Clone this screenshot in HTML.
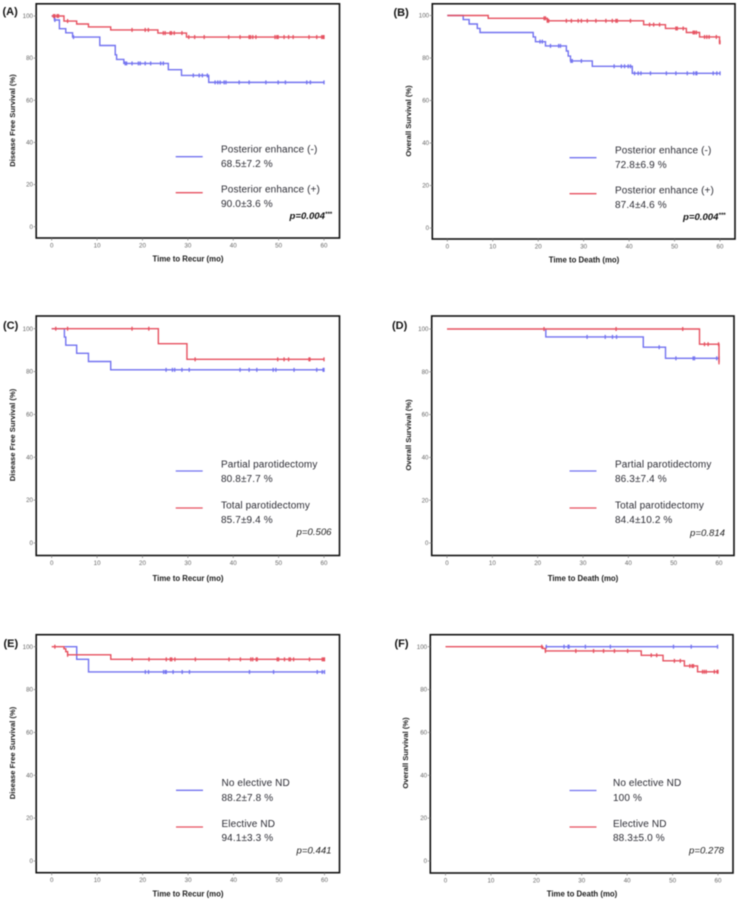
<!DOCTYPE html>
<html lang="en">
<head>
<meta charset="utf-8">
<title>Kaplan-Meier survival curves</title>
<style>
html,body{margin:0;padding:0;background:#fff;width:740px;height:902px;overflow:hidden}
svg{position:absolute;left:0;top:0;display:block;filter:blur(0.4px)}
text{font-family:"Liberation Sans",sans-serif}
.lg{font-size:10px;fill:#2c2c34;letter-spacing:.12px}
.pv{font-size:9.6px;fill:#222;font-style:italic;text-anchor:end}
.pb{font-weight:bold;fill:#111}
.pl{font-size:11px;font-weight:bold;fill:#111}
.xt{font-size:7.8px;font-weight:bold;fill:#1a1a1a;text-anchor:middle}
.yt{font-size:7.6px;font-weight:bold;fill:#1a1a1a;text-anchor:middle}
.tk{font-size:6.2px;fill:#666}
</style>
</head>
<body>
<svg id="chart" xmlns="http://www.w3.org/2000/svg" width="740" height="902" viewBox="0 0 740 902">
  <rect width="740" height="902" fill="#fff"/>

  <g>
    <text class="pl" x="2.5" y="15">(A)</text>
    <text class="yt" transform="translate(15,120.5) rotate(-90)">Disease Free Survival (%)</text>
    <text class="xt" x="188" y="261.5">Time to Recur (mo)</text>
    <text class="lg" x="221" y="152.5">Posterior enhance (-)</text>
    <text class="lg" x="221" y="167">68.5±7.2 %</text>
    <text class="lg" x="221" y="192.5">Posterior enhance (+)</text>
    <text class="lg" x="221" y="207">90.0±3.6 %</text>
    <text class="pv pb" x="332" y="219">p=0.004<tspan font-size="6" dy="-3">***</tspan></text>
  </g>

  <g>
    <text class="pl" x="393.5" y="16">(B)</text>
    <text class="yt" transform="translate(411,121) rotate(-90)">Overall Survival (%)</text>
    <text class="xt" x="584" y="262.5">Time to Death (mo)</text>
    <text class="lg" x="615" y="153.5">Posterior enhance (-)</text>
    <text class="lg" x="615" y="168">72.8±6.9 %</text>
    <text class="lg" x="615" y="193.5">Posterior enhance (+)</text>
    <text class="lg" x="615" y="208">87.4±4.6 %</text>
    <text class="pv pb" x="725.5" y="220">p=0.004<tspan font-size="6" dy="-3">***</tspan></text>
  </g>

  <g>
    <text class="pl" x="3" y="329">(C)</text>
    <text class="yt" transform="translate(15,435) rotate(-90)">Disease Free Survival (%)</text>
    <text class="xt" x="188" y="581">Time to Recur (mo)</text>
    <text class="lg" x="221" y="467.5">Partial parotidectomy</text>
    <text class="lg" x="221" y="482">80.8±7.7 %</text>
    <text class="lg" x="221" y="508.5">Total parotidectomy</text>
    <text class="lg" x="221" y="523">85.7±9.4 %</text>
    <text class="pv" x="331.5" y="535">p=0.506</text>
  </g>

  <g>
    <text class="pl" x="392" y="329">(D)</text>
    <text class="yt" transform="translate(411,435) rotate(-90)">Overall Survival (%)</text>
    <text class="xt" x="583" y="581">Time to Death (mo)</text>
    <text class="lg" x="615" y="467.5">Partial parotidectomy</text>
    <text class="lg" x="615" y="482">86.3±7.4 %</text>
    <text class="lg" x="615" y="508.5">Total parotidectomy</text>
    <text class="lg" x="615" y="523">84.4±10.2 %</text>
    <text class="pv" x="725" y="536">p=0.814</text>
  </g>

  <g>
    <text class="pl" x="3.5" y="647">(E)</text>
    <text class="yt" transform="translate(15,753) rotate(-90)">Disease Free Survival (%)</text>
    <text class="xt" x="188" y="896.5">Time to Recur (mo)</text>
    <text class="lg" x="221.5" y="786">No elective ND</text>
    <text class="lg" x="221.5" y="801">88.2±7.8 %</text>
    <text class="lg" x="221.5" y="827">Elective ND</text>
    <text class="lg" x="221.5" y="841">94.1±3.3 %</text>
    <text class="pv" x="331.5" y="853.5">p=0.441</text>
  </g>

  <g>
    <text class="pl" x="394.5" y="647">(F)</text>
    <text class="yt" transform="translate(408,753) rotate(-90)">Overall Survival (%)</text>
    <text class="xt" x="582" y="896.5">Time to Death (mo)</text>
    <text class="lg" x="613" y="786">No elective ND</text>
    <text class="lg" x="613" y="801">100 %</text>
    <text class="lg" x="613" y="827">Elective ND</text>
    <text class="lg" x="613" y="841">88.3±5.0 %</text>
    <text class="pv" x="724" y="853.5">p=0.278</text>
  </g>
</svg>

<script>
// Axis tick labels
const xTickLabels = [0, 10, 20, 30, 40, 50, 60];
const yTickLabels = [0, 20, 40, 60, 80, 100];

// Panel A
const aBlueTimes = [0, 0.6, 1.7, 3.1, 4.6, 10.6, 14, 14.3, 15.9, 25.7, 28.6, 34.6];
const aBlueSurvival = [100, 98.1, 94, 92, 90, 86, 81.6, 79.4, 77.5, 74.5, 71.8, 68.5];
const aBlueCensored = [0.7, 4.8, 16.2, 16.5, 17.7, 19.1, 19.5, 20.6, 21.8, 24, 24.6, 31.2, 32.5, 33.2, 34.3, 36, 36.6, 37.1, 38, 38.4, 41.3, 43.5, 47.2, 49.9, 51.5, 56.2, 57, 60];
const aRedTimes = [0, 2.7, 5.5, 8.1, 13, 23.4, 29.7];
const aRedSurvival = [100, 97.6, 96.2, 94.8, 93.4, 91.9, 90];
const aRedCensored = [0.4, 0.7, 1.2, 1.5, 3.5, 17.7, 20.6, 21.3, 24.6, 25, 26.1, 26.4, 27, 28.7, 30.2, 31.5, 33.6, 39, 41.5, 43.5, 43.8, 44.3, 45, 49.2, 49.6, 49.9, 51.2, 52.2, 53.2, 56.7, 58.4, 59.5, 59.8, 60];

// Panel B
const bBlueTimes = [0, 3.5, 4.8, 6.6, 7.2, 18.9, 19.4, 21.6, 26.2, 26.6, 27.1, 31.9, 40.7];
const bBlueSurvival = [100, 98.1, 96, 93.9, 92, 89.9, 87.7, 85.7, 83.3, 80.9, 78.6, 76.1, 72.8];
const bBlueCensored = [20.4, 20.9, 22.7, 24.5, 24.9, 27.2, 27.5, 29.5, 36.7, 38.3, 39, 39.8, 40.3, 41.2, 42, 42.6, 44.7, 48.2, 50.3, 52.8, 54.2, 54.7, 54.9, 58.5, 59.3, 60];
const bRedTimes = [0, 9, 22, 43.2, 48, 52.6, 55.5, 59.9];
const bRedSurvival = [100, 98.7, 97.5, 95.7, 93.9, 92, 89.9, 87.4];
const bRedCensored = [21.3, 21.6, 22, 22.3, 26.2, 27.3, 28.8, 29.5, 30.8, 32.7, 34.9, 36.3, 37.1, 37.4, 40.3, 44.5, 45.4, 46.7, 50.3, 50.6, 51.9, 54.1, 54.4, 54.8, 56.6, 57.1, 57.6, 59.2, 59.9, 60];

// Panel C
const cBlueTimes = [0, 2.8, 3.1, 5.5, 8.1, 13];
const cBlueSurvival = [100, 96.1, 92.3, 88.5, 84.7, 80.8];
const cBlueCensored = [25.2, 26.6, 27.1, 28.7, 30.3, 41.5, 43.5, 45.2, 48.8, 49.4, 53.4, 58.4, 59.8, 60];
const cRedTimes = [0, 23.5, 29.8];
const cRedSurvival = [100, 93, 85.7];
const cRedCensored = [0.9, 3.5, 17.7, 21.4, 31.6, 49.8, 51.2, 52.2, 56.7, 56.9, 60];

// Panel D
const dBlueTimes = [21.8, 21.8, 43.3, 48.2];
const dBlueSurvival = [100, 96.3, 91.5, 86.3];
const dBlueCensored = [30.9, 34.9, 36.5, 37.4, 46.8, 50.5, 54.3, 54.6, 59.5, 60];
const dRedTimes = [0, 55.7, 60];
const dRedSurvival = [100, 92.9, 84.4];
const dRedCensored = [21.4, 37.3, 52, 56.8, 57.6, 59.9, 60];

// Panel E
const eBlueTimes = [2.7, 5.5, 8.1];
const eBlueSurvival = [100, 94.1, 88.2];
const eBlueCensored = [20.6, 21.3, 24.6, 25, 25.2, 26.7, 28.7, 30.3, 43.5, 48.8, 58.4, 59.5, 60];
const eRedTimes = [0, 2.7, 3.1, 3.5, 13];
const eRedSurvival = [100, 99, 97.7, 96.2, 94.1];
const eRedCensored = [0.7, 3.5, 17.7, 21.4, 25.2, 26.1, 26.4, 27.1, 31.6, 39, 41.5, 43.8, 44.2, 45, 45.2, 49.6, 49.9, 51.2, 52.2, 52.5, 53.2, 56.7, 59.5, 59.8, 60];

// Panel F
const fBlueTimes = [22];
const fBlueSurvival = [100];
const fBlueCensored = [22.2, 26.1, 27, 27.2, 30.8, 36.3, 50.2, 54.1, 59.9];
const fRedTimes = [0, 21.4, 22, 43.1, 47.9, 52.6, 55.5];
const fRedSurvival = [100, 99.2, 98, 96, 93.4, 91, 88.3];
const fRedCensored = [21.2, 22, 28.7, 32.6, 34.8, 37.2, 40.1, 45.3, 46.5, 50.4, 51.7, 53.8, 54.3, 54.6, 56.6, 57, 57.4, 59.2, 59.8, 60];

const SVGNS = 'http://www.w3.org/2000/svg';
const root = document.getElementById('chart');
const BLUE = '#7272f0';
const RED = '#e6505f';

function make(parent, tag, attrs) {
  const el = document.createElementNS(SVGNS, tag);
  for (const k in attrs) el.setAttribute(k, attrs[k]);
  parent.appendChild(el);
  return el;
}

function survivalAt(times, values, t) {
  let v = values[0];
  for (let i = 0; i < times.length; i++) if (t >= times[i]) v = values[i];
  return v;
}

function drawSeries(group, key, color, times, values, censored, xs, ys) {
  let d = 'M' + xs(times[0]) + ' ' + ys(values[0]);
  for (let i = 1; i < times.length; i++) {
    d += 'H' + xs(times[i]) + 'V' + ys(values[i]);
  }
  const lastC = censored.length ? censored[censored.length - 1] : times[times.length - 1];
  d += 'H' + xs(Math.max(lastC, times[times.length - 1]));
  const line = make(group, 'path', { d: d, fill: 'none', stroke: color, 'stroke-width': 1.4 });
  
  
  censored.forEach(function (t) {
    const cx = xs(t);
    const cy = ys(survivalAt(times, values, t));
    const mark = make(group, 'line', { x1: cx, x2: cx, y1: cy - 2, y2: cy + 2, stroke: color, 'stroke-width': 1.3 });
    
    
  });
}

function drawPanel(id, g, blue, red, legendX, legendBlueY, legendRedY) {
  const group = make(root, 'g', {});
  
  

  const xs = function (t) { return g.x0 + (g.x60 - g.x0) * t / 60; };
  const ys = function (v) { return g.y0 + (g.y100 - g.y0) * v / 100; };

  const frame = make(group, 'rect', { x: g.left, y: g.top, width: g.right - g.left, height: g.bottom - g.top, fill: 'none', stroke: '#111', 'stroke-width': 1.6 });
  
  

  xTickLabels.forEach(function (v) {
    const tick = make(group, 'line', { x1: xs(v), x2: xs(v), y1: g.bottom, y2: g.bottom + 2.5, stroke: '#777', 'stroke-width': 0.7 });
    
    
    const label = make(group, 'text', { x: xs(v), y: g.bottom + 9.5, 'text-anchor': 'middle', class: 'tk' });
    
    
    label.textContent = v;
  });

  yTickLabels.forEach(function (v) {
    const tick = make(group, 'line', { x1: g.left - 2.5, x2: g.left, y1: ys(v), y2: ys(v), stroke: '#777', 'stroke-width': 0.7 });
    
    
    const label = make(group, 'text', { x: g.left - 3.2, y: ys(v) + 2.1, 'text-anchor': 'end', class: 'tk' });
    
    
    label.textContent = v;
  });

  drawSeries(group, id + '-blue', BLUE, blue[0], blue[1], blue[2], xs, ys);
  drawSeries(group, id + '-red', RED, red[0], red[1], red[2], xs, ys);

  const legendBlue = make(group, 'line', { x1: legendX, x2: legendX + 27, y1: legendBlueY, y2: legendBlueY, stroke: BLUE, 'stroke-width': 1.3 });
  
  
  const legendRed = make(group, 'line', { x1: legendX, x2: legendX + 27, y1: legendRedY, y2: legendRedY, stroke: RED, 'stroke-width': 1.3 });
  
  
}

drawPanel('a', { left: 36.2, right: 339.5, top: 3.8, bottom: 238, x0: 51.7, x60: 324, y0: 226.7, y100: 16 },
  [aBlueTimes, aBlueSurvival, aBlueCensored], [aRedTimes, aRedSurvival, aRedCensored], 175.7, 156.7, 192.7);
drawPanel('b', { left: 432.3, right: 735, top: 3.8, bottom: 239, x0: 447.3, x60: 720, y0: 228, y100: 15.5 },
  [bBlueTimes, bBlueSurvival, bBlueCensored], [bRedTimes, bRedSurvival, bRedCensored], 569.5, 157.7, 193.7);
drawPanel('c', { left: 36.2, right: 339.5, top: 316, bottom: 555.5, x0: 51.7, x60: 324, y0: 543, y100: 328.7 },
  [cBlueTimes, cBlueSurvival, cBlueCensored], [cRedTimes, cRedSurvival, cRedCensored], 175.7, 471, 508);
drawPanel('d', { left: 431.7, right: 734, top: 316, bottom: 555.5, x0: 447, x60: 719, y0: 543, y100: 329 },
  [dBlueTimes, dBlueSurvival, dBlueCensored], [dRedTimes, dRedSurvival, dRedCensored], 569.5, 471, 508);
drawPanel('e', { left: 36.2, right: 339.5, top: 634.7, bottom: 872.7, x0: 51.7, x60: 324.5, y0: 861, y100: 646.7 },
  [eBlueTimes, eBlueSurvival, eBlueCensored], [eRedTimes, eRedSurvival, eRedCensored], 176, 790.3, 827);
drawPanel('f', { left: 430.3, right: 733, top: 634.7, bottom: 873, x0: 445.5, x60: 718, y0: 861, y100: 646.7 },
  [fBlueTimes, fBlueSurvival, fBlueCensored], [fRedTimes, fRedSurvival, fRedCensored], 569.5, 790.5, 827);
</script>
</body>
</html>
